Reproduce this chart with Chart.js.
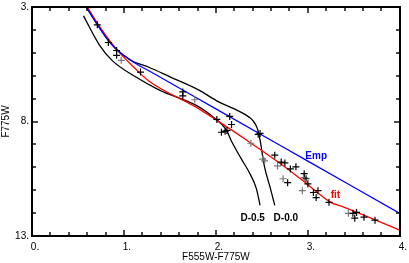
<!DOCTYPE html>
<html>
<head>
<meta charset="utf-8">
<script src="https://cdn.jsdelivr.net/npm/chart.js@4"></script>
<style>
  html, body { margin: 0; padding: 0; background: #fff; }
</style>
</head>
<body>
<canvas id="cmd" width="409" height="263"></canvas>
<script>
// empirical relation (blue)
const empX = [0.59, 0.70, 0.80, 0.90, 1.00, 1.10, 1.30, 2.00, 3.00, 4.00];
const empY = [3.00, 3.70, 4.30, 4.78, 5.12, 5.40, 5.85, 7.45, 9.73, 12.01];

// fitted relation (red)
const fitX = [0.60, 0.73, 0.92, 1.13, 1.27, 1.81, 2.35, 2.78, 3.00, 3.25, 3.37, 4.00];
const fitY = [3.00, 3.82, 4.85, 5.72, 6.23, 7.44, 8.86, 10.07, 10.76, 11.53, 11.71, 12.74];

// isochrone D-0.0
const d00X = [0.59, 0.70, 0.80, 0.90, 1.00, 1.10, 1.27, 1.50, 1.81, 2.03, 2.20, 2.32, 2.40, 2.45, 2.48, 2.50, 2.53, 2.59, 2.64];
const d00Y = [3.00, 3.70, 4.30, 4.78, 5.12, 5.38, 5.63, 6.05, 6.62, 7.14, 7.45, 7.70, 7.95, 8.30, 8.80, 9.30, 10.00, 10.89, 11.66];

// isochrone D-0.5
const d05X = [0.56, 0.73, 0.87, 1.13, 1.38, 1.81, 1.99, 2.11, 2.17, 2.27, 2.37, 2.44, 2.48];
const d05Y = [3.39, 4.64, 5.33, 6.06, 6.62, 7.35, 7.87, 8.34, 8.86, 9.59, 10.28, 10.93, 11.66];

// stars, black crosses
const starX = [0.71, 0.83, 0.92, 0.92, 1.18, 1.64, 1.64, 2.01, 2.15, 2.17, 2.06, 2.12, 2.10, 2.46, 2.48, 2.64, 2.71, 2.75, 2.78, 2.81, 2.87, 2.96, 2.98, 3.00, 3.06, 3.11, 3.09, 3.23, 3.49, 3.53, 3.51, 3.61, 3.73];
const starY = [3.78, 4.55, 4.90, 5.11, 5.84, 6.71, 6.88, 7.91, 7.78, 8.13, 8.47, 8.39, 8.43, 8.56, 8.52, 9.47, 9.77, 9.81, 10.67, 10.07, 9.98, 10.28, 10.50, 10.72, 11.10, 11.02, 11.32, 11.53, 12.01, 11.97, 12.22, 12.18, 12.31];

// stars, grey crosses
const greyX = [0.97, 1.77, 2.38, 2.51, 2.53, 2.67, 2.73, 2.94, 2.96, 3.44];
const greyY = [5.33, 7.05, 8.95, 9.64, 9.72, 9.94, 10.50, 11.02, 10.45, 12.01];

const xMin = 0, xMax = 4, xStep = 0.2;
const yMin = 3, yMax = 13, yStep = 1;
const xMajor = [0, 1, 2, 3, 4];
const yMajor = [3, 8, 13];

// text labels written in the plot
const notes = [
  { text: 'Emp', x: 3.09, y: 9.51, color: '#0000ff' },
  { text: 'fit', x: 3.30, y: 11.23, color: '#ff0000' },
  { text: 'D-0.5', x: 2.40, y: 12.22, color: '#000' },
  { text: 'D-0.0', x: 2.76, y: 12.22, color: '#000' }
];

function pts(xs, ys) {
  return xs.map((v, i) => ({ x: v, y: ys[i] }));
}
function isMaj(list, v) {
  return list.some(m => Math.abs(m - v) < 1e-6);
}
function tickVals(min, max, st) {
  const out = [];
  const n = Math.round((max - min) / st);
  for (let i = 0; i <= n; i++) out.push(min + i * st);
  return out;
}

const FONT = 'Liberation Sans, Arial, Helvetica, sans-serif';

// frame with inward ticks on all four sides
const frameTicks = {
  id: 'frameTicks',
  afterDraw(chart) {
    const ctx = chart.ctx;
    const a = chart.chartArea;
    const x = chart.scales.x, y = chart.scales.y;
    const L = Math.round(a.left), R = Math.round(a.right);
    const T = Math.round(a.top), B = Math.round(a.bottom);
    ctx.save();
    ctx.strokeStyle = '#000';
    ctx.lineWidth = 2;
    ctx.strokeRect(L, T, R - L, B - T);

    ctx.fillStyle = '#000';
    tickVals(xMin, xMax, xStep).forEach(v => {
      const p = Math.round(x.getPixelForValue(v));
      const len = isMaj(xMajor, v) ? 6 : 4;
      ctx.fillRect(p - 0.7, B - len, 1.4, len);
      ctx.fillRect(p - 0.7, T, 1.4, len);
    });
    tickVals(yMin, yMax, yStep).forEach(v => {
      const p = Math.round(y.getPixelForValue(v));
      const len = isMaj(yMajor, v) ? 6 : 4;
      ctx.fillRect(L, p - 0.7, len, 1.4);
      ctx.fillRect(R - len, p - 0.7, len, 1.4);
    });

    ctx.font = 'bold 10px ' + FONT;
    ctx.textAlign = 'center';
    ctx.textBaseline = 'middle';
    notes.forEach(n => {
      ctx.fillStyle = n.color;
      ctx.fillText(n.text, x.getPixelForValue(n.x), y.getPixelForValue(n.y));
    });
    ctx.restore();
  }
};

const lineDs = (label, xs, ys, color) => ({
  label: label,
  data: pts(xs, ys),
  showLine: true,
  borderColor: color,
  borderWidth: 1.3,
  pointRadius: 0,
  cubicInterpolationMode: 'monotone',
  fill: false
});

new Chart(document.getElementById('cmd').getContext('2d'), {
  type: 'scatter',
  data: {
    datasets: [
      {
        label: 'stars',
        data: pts(starX, starY),
        pointStyle: 'cross',
        pointRadius: 3.5,
        borderColor: '#000',
        borderWidth: 1.2
      },
      {
        label: 'stars grey',
        data: pts(greyX, greyY),
        pointStyle: 'cross',
        pointRadius: 3.5,
        borderColor: '#777',
        borderWidth: 1.2
      },
      lineDs('Emp', empX, empY, '#0000ff'),
      lineDs('fit', fitX, fitY, '#ff0000'),
      lineDs('D-0.0', d00X, d00Y, '#000'),
      lineDs('D-0.5', d05X, d05Y, '#000')
    ]
  },
  options: {
    responsive: false,
    animation: false,
    layout: { padding: { top: 0, right: 6, left: 0, bottom: 0 } },
    plugins: { legend: { display: false }, tooltip: { enabled: false } },
    scales: {
      x: {
        type: 'linear',
        min: xMin, max: xMax,
        grid: { display: false, drawTicks: false },
        border: { display: false },
        ticks: {
          stepSize: xStep,
          autoSkip: false,
          maxRotation: 0,
          padding: 5,
          labelOffset: 3,
          color: '#000',
          font: { family: FONT, size: 10 },
          callback: v => isMaj(xMajor, v) ? Math.round(v) + '.' : ''
        },
        title: {
          display: true,
          text: 'F555W-F775W',
          color: '#000',
          font: { family: FONT, size: 10 },
          padding: 0
        },
        afterFit: s => { s.height = 27; }
      },
      y: {
        type: 'linear',
        reverse: true,
        min: yMin, max: yMax,
        grid: { display: false, drawTicks: false },
        border: { display: false },
        ticks: {
          stepSize: yStep,
          autoSkip: false,
          padding: 3,
          color: '#000',
          font: { family: FONT, size: 10, lineHeight: 0.8 },
          callback: v => isMaj(yMajor, v) ? Math.round(v) + '.' : ''
        },
        title: {
          display: true,
          text: 'F775W',
          color: '#000',
          font: { family: FONT, size: 10 },
          padding: 0
        },
        afterFit: s => { s.width = 32; }
      }
    }
  },
  plugins: [frameTicks]
});
</script>
</body>
</html>
